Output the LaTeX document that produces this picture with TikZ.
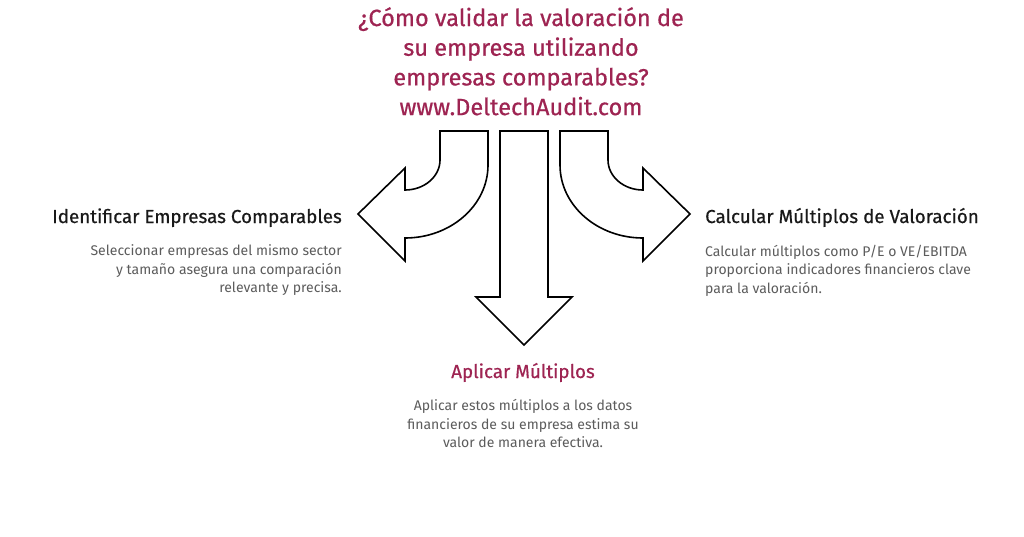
\documentclass[tikz,border=0pt]{standalone}
\usepackage{fontspec}
\setmainfont{Fira Sans}
\newfontfamily\mediumfont[FakeBold=0.6]{Fira Sans}
\usepackage{tikz}
\usetikzlibrary{positioning}
\definecolor{wine}{RGB}{158,36,82}
\definecolor{bodygray}{RGB}{92,92,92}
\tikzset{
  flowarrow/.style={
    draw=black, line width=1.6pt, fill=white, line join=miter
  },
  titletext/.style={
    font=\mediumfont\fontsize{23.5}{29.7}\selectfont, text=wine,
    align=center, inner sep=0pt
  },
  heading/.style={
    font=\mediumfont\fontsize{18.8}{22}\selectfont, text=black!90, inner sep=0pt
  },
  bodytext/.style={
    font=\fontsize{14}{18.5}\selectfont, text=bodygray, inner sep=0pt
  }
}

\begin{document}
\begin{tikzpicture}[x=1pt, y=-1pt]

\useasboundingbox[fill=white] (0,0) rectangle (1024,536);

% Title
\node[titletext, anchor=north] (title) at (521,7)
  {¿Cómo validar la valoración de\\
   su empresa utilizando\\
   empresas comparables?\\
   www.DeltechAudit.com};

% Arrows
\draw[flowarrow] (440,131) -- (440,160)
  arc[start angle=0, end angle=90, x radius=35, y radius=30]
  -- (405,168) -- (358,214) -- (405,261) -- (405,238)
  arc[start angle=90, end angle=0, x radius=83, y radius=73]
  -- (488,131) -- cycle;
\draw[flowarrow] (500,131) -- (500,297) -- (476,297) -- (524,345)
  -- (572,297) -- (548,297) -- (548,131) -- cycle;
\draw[flowarrow] (608,131) -- (608,160)
  arc[start angle=180, end angle=90, x radius=35, y radius=30]
  -- (643,168) -- (690,214) -- (643,261) -- (643,238)
  arc[start angle=90, end angle=180, x radius=83, y radius=73]
  -- (560,131) -- cycle;

% Left step
\node[heading, anchor=base east] (identify) at (342,223)
  {Identificar Empresas Comparables};
\node[bodytext, align=right, below=17.5pt of identify.south east, anchor=north east]
  (identifytext)
  {Seleccionar empresas del mismo sector\\
   y tamaño asegura una comparación\\
   relevante y precisa.};

% Right step
\node[heading, anchor=base west] (compute) at (705,223)
  {Calcular Múltiplos de Valoración};
\node[bodytext, align=left, below=17.5pt of compute.south west, anchor=north west]
  (computetext)
  {Calcular múltiplos como P/E o VE/EBITDA\\
   proporciona indicadores financieros clave\\
   para la valoración.};

% Middle step
\node[heading, text=wine, anchor=base] (apply) at (523,378)
  {Aplicar Múltiplos};
\node[bodytext, align=center, below=17pt of apply.south] (applytext)
  {Aplicar estos múltiplos a los datos\\
   financieros de su empresa estima su\\
   valor de manera efectiva.};

\end{tikzpicture}
\end{document}
